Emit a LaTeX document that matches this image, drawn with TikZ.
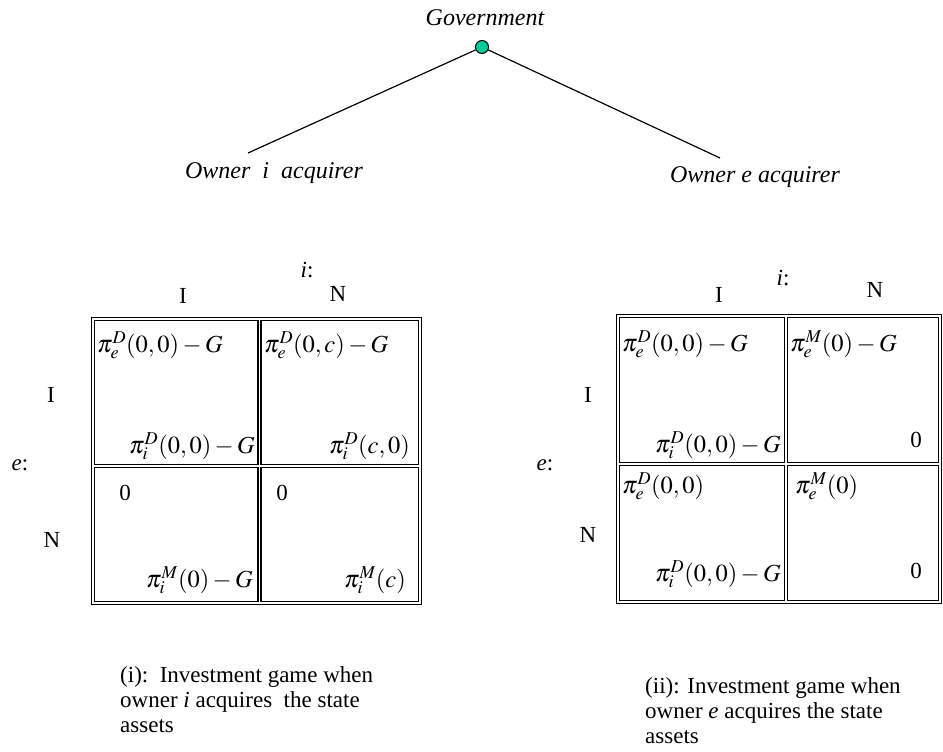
\documentclass[tikz,border=0pt]{standalone}
\usepackage{mathptmx}
\usepackage{fontspec}
\setmainfont{Liberation Serif}
\definecolor{nodegreen}{RGB}{0,204,153}
\tikzset{
  dbl/.style={draw, double, line width=1.5pt, double distance=1.5pt},
  pay/.style={inner sep=0pt, font=\fontsize{24.5}{28}\selectfont},
  zero/.style={inner sep=0pt, font=\fontsize{23}{26}\selectfont},
  hdr/.style={inner sep=0pt, font=\fontsize{23}{26}\selectfont},
  ttl/.style={inner sep=0pt, font=\itshape\fontsize{24}{28}\selectfont},
  captxt/.style={inner sep=0pt, align=left, font=\fontsize{23}{25}\selectfont},
  edge/.style={draw, line width=1.2pt},
}
\begin{document}
\begin{tikzpicture}[x=1pt,y=-1pt]
\useasboundingbox (0,0) rectangle (943,752);
% tree
\node[ttl, anchor=base] (gov) at (485,26) {Government};
\node[circle, draw, line width=1pt, fill=nodegreen, minimum size=13pt, inner sep=0pt] (root) at (482,47) {};
\node[ttl, anchor=base] (own1) at (274,178) {Owner\ \ \textit{i}\ \ acquirer};
\node[ttl, anchor=base] (own2) at (755,182) {Owner \textit{e} acquirer};
\coordinate (l1) at (248,153);
\coordinate (l2) at (720,158);
\draw[edge] (root) -- (l1);
\draw[edge] (root) -- (l2);
% left matrix
\draw[dbl] (93,319) rectangle (420,603) (259.5,319) -- (259.5,603) (93,466) -- (420,466);
\node[hdr] (li) at (307,270) {\textit{i}:};
\node[hdr] (lcI) at (183,296) {I};
\node[hdr] (lcN) at (338,294) {N};
\node[hdr] (lrI) at (51,395) {I};
\node[hdr] (le) at (20,465) {\textit{e}:};
\node[hdr] (lrN) at (52,540) {N};
\node[pay, anchor=base west] (a11e) at (97,352) {$\pi_e^D(0,0)-G$};
\node[pay, anchor=base east] (a11i) at (255,453) {$\pi_i^D(0,0)-G$};
\node[pay, anchor=base west] (a12e) at (264,352) {$\pi_e^D(0,c)-G$};
\node[pay, anchor=base east] (a12i) at (410,453) {$\pi_i^D(c,0)$};
\node[zero, anchor=base] (a21e) at (125,500) {0};
\node[pay, anchor=base east] (a21i) at (253,587) {$\pi_i^M(0)-G$};
\node[zero, anchor=base] (a22e) at (282,500) {0};
\node[pay, anchor=base east] (a22i) at (406,587) {$\pi_i^M(c)$};
% right matrix
\draw[dbl] (618,316) rectangle (940,602) (786,316) -- (786,602) (618,464) -- (940,464);
\node[hdr] (ri) at (783,278) {\textit{i}:};
\node[hdr] (rcI) at (719,295) {I};
\node[hdr] (rcN) at (875,290) {N};
\node[hdr] (rrI) at (588,395) {I};
\node[hdr] (re) at (545,465) {\textit{e}:};
\node[hdr] (rrN) at (588,535) {N};
\node[pay, anchor=base west] (b11e) at (622,351) {$\pi_e^D(0,0)-G$};
\node[pay, anchor=base east] (b11i) at (781,452) {$\pi_i^D(0,0)-G$};
\node[pay, anchor=base west] (b12e) at (790,351) {$\pi_e^M(0)-G$};
\node[zero, anchor=base east] (b12i) at (922,447) {0};
\node[pay, anchor=base west] (b21e) at (622,493) {$\pi_e^D(0,0)$};
\node[pay, anchor=base east] (b21i) at (781,581) {$\pi_i^D(0,0)-G$};
\node[pay, anchor=base west] (b22e) at (795,493) {$\pi_e^M(0)$};
\node[zero, anchor=base east] (b22i) at (922,578) {0};
% captions
\node[captxt, anchor=north west] (cap1) at (120,666) {(i):\ \ Investment game when\\owner \textit{i} acquires\ \ the state\\assets};
\node[captxt, anchor=north west] (cap2) at (645,677) {(ii): Investment game when\\owner \textit{e} acquires the state\\assets};
\end{tikzpicture}
\end{document}
